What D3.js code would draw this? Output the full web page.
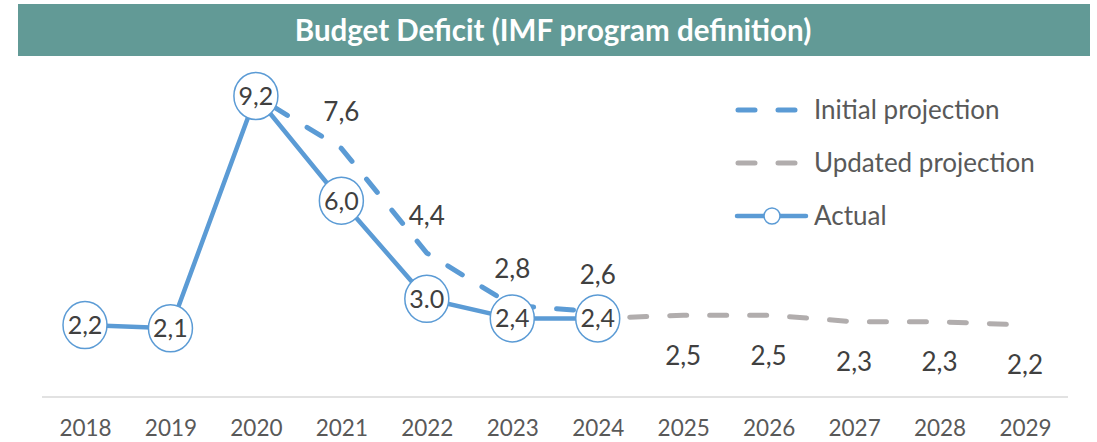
<!DOCTYPE html>
<html lang="en">
<head>
    <meta charset="UTF-8" />
    <title>Budget Deficit (IMF program definition)</title>
    <script src="https://d3js.org/d3.v7.min.js"></script>
    <style>
        body {
            margin: 0;
            background: #fff;
            font-family: Lato, "Open Sans", sans-serif;
        }
    </style>
</head>
<body>
<svg id="chart"></svg>

<script>
    const years = ["2018", "2019", "2020", "2021", "2022", "2023", "2024", "2025", "2026", "2027", "2028", "2029"];

    const actualYears = ["2018", "2019", "2020", "2021", "2022", "2023", "2024"];
    const actualValues = [2.2, 2.1, 9.2, 6.0, 3.0, 2.4, 2.4];
    const actualLabels = ["2,2", "2,1", "9,2", "6,0", "3.0", "2,4", "2,4"];

    const initialYears = ["2020", "2021", "2022", "2023", "2024"];
    const initialValues = [9.2, 7.6, 4.4, 2.8, 2.6];
    const initialLabels = ["", "7,6", "4,4", "2,8", "2,6"];

    const updatedYears = ["2024", "2025", "2026", "2027", "2028", "2029"];
    const updatedValues = [2.4, 2.5, 2.5, 2.3, 2.3, 2.2];
    const updatedLabels = ["", "2,5", "2,5", "2,3", "2,3", "2,2"];

    const width = 1097;
    const height = 442;
    const blue = "#5b9bd5";
    const grey = "#b1adad";
    const textColor = "#404040";

    const svg = d3.select("#chart")
        .attr("width", width)
        .attr("height", height);

    // title bar
    svg.append("rect")
        .attr("x", 18)
        .attr("y", 4)
        .attr("width", 1072)
        .attr("height", 52)
        .attr("fill", "#629a96");

    svg.append("text")
        .attr("x", 553)
        .attr("y", 30)
        .attr("dy", "0.36em")
        .attr("text-anchor", "middle")
        .attr("fill", "#fff")
        .attr("font-weight", "bold")
        .attr("font-size", 29.5)
        .text("Budget Deficit (IMF program definition)");

    const x = d3.scalePoint()
        .domain(years)
        .range([85, 1025]);

    const y = d3.scaleLinear()
        .domain([0, 9.2])
        .range([397, 96]);

    // x axis
    const xAxis = svg.append("g")
        .attr("transform", "translate(0,397)")
        .call(d3.axisBottom(x).tickSize(0).tickPadding(0));
    xAxis.select(".domain")
        .attr("d", "M42,0H1068")
        .attr("stroke", "#d9d9d9")
        .attr("stroke-width", 1.5);
    xAxis.selectAll("text")
        .attr("y", 31)
        .attr("dy", "0.36em")
        .attr("font-family", "Lato, 'Open Sans', sans-serif")
        .attr("font-size", 22.5)
        .attr("fill", "#595959");

    const line = d3.line()
        .x(d => x(d[0]))
        .y(d => y(d[1]));

    const initialData = d3.zip(initialYears, initialValues);
    const updatedData = d3.zip(updatedYears, updatedValues);
    const actualData = d3.zip(actualYears, actualValues);

    svg.append("path")
        .datum(initialData)
        .attr("d", line)
        .attr("fill", "none")
        .attr("stroke", blue)
        .attr("stroke-width", 5)
        .attr("stroke-linecap", "round")
        .attr("stroke-dasharray", "17,23")
        .attr("stroke-dashoffset", -20);

    svg.append("path")
        .datum(updatedData)
        .attr("d", line)
        .attr("fill", "none")
        .attr("stroke", grey)
        .attr("stroke-width", 5)
        .attr("stroke-linecap", "round")
        .attr("stroke-dasharray", "17,23")
        .attr("stroke-dashoffset", -32);

    svg.append("path")
        .datum(actualData)
        .attr("d", line)
        .attr("fill", "none")
        .attr("stroke", blue)
        .attr("stroke-width", 4.5);

    // markers with labels
    const marker = svg.append("g")
        .selectAll("g")
        .data(actualData)
        .join("g")
        .attr("transform", d => `translate(${x(d[0])},${y(d[1])})`);

    marker.append("ellipse")
        .attr("rx", 22)
        .attr("ry", 23.5)
        .attr("fill", "#fff")
        .attr("stroke", blue)
        .attr("stroke-width", 1.5);

    marker.append("text")
        .attr("text-anchor", "middle")
        .attr("dy", "0.36em")
        .attr("font-size", 25)
        .attr("fill", textColor)
        .text((d, i) => actualLabels[i]);

    // initial projection labels (above)
    svg.append("g")
        .selectAll("text")
        .data(initialData)
        .join("text")
        .attr("x", d => x(d[0]))
        .attr("y", d => y(d[1]) - 37)
        .attr("dy", "0.36em")
        .attr("text-anchor", "middle")
        .attr("font-size", 26)
        .attr("fill", textColor)
        .text((d, i) => initialLabels[i]);

    // updated projection labels (below)
    svg.append("g")
        .selectAll("text")
        .data(updatedData)
        .join("text")
        .attr("x", d => x(d[0]))
        .attr("y", d => y(d[1]) + 40)
        .attr("dy", "0.36em")
        .attr("text-anchor", "middle")
        .attr("font-size", 26)
        .attr("fill", textColor)
        .text((d, i) => updatedLabels[i]);

    // legend
    const legend = svg.append("g")
        .attr("font-size", 26)
        .attr("fill", "#595959");

    const legendItems = [
        { name: "Initial projection", color: blue, dashed: true, y: 110 },
        { name: "Updated projection", color: grey, dashed: true, y: 163 },
        { name: "Actual", color: blue, dashed: false, y: 216 }
    ];

    legendItems.forEach(item => {
        if (item.dashed) {
            legend.append("line")
                .attr("x1", 738).attr("x2", 797)
                .attr("y1", item.y).attr("y2", item.y)
                .attr("stroke", item.color)
                .attr("stroke-width", 5)
                .attr("stroke-linecap", "round")
                .attr("stroke-dasharray", "17,23");
        } else {
            legend.append("line")
                .attr("x1", 737).attr("x2", 806)
                .attr("y1", item.y).attr("y2", item.y)
                .attr("stroke", item.color)
                .attr("stroke-width", 4.5)
                .attr("stroke-linecap", "round");
            legend.append("circle")
                .attr("cx", 772).attr("cy", item.y)
                .attr("r", 8)
                .attr("fill", "#fff")
                .attr("stroke", item.color)
                .attr("stroke-width", 1.5);
        }
        legend.append("text")
            .attr("x", 814)
            .attr("y", item.y)
            .attr("dy", "0.36em")
            .text(item.name);
    });
</script>
</body>
</html>
